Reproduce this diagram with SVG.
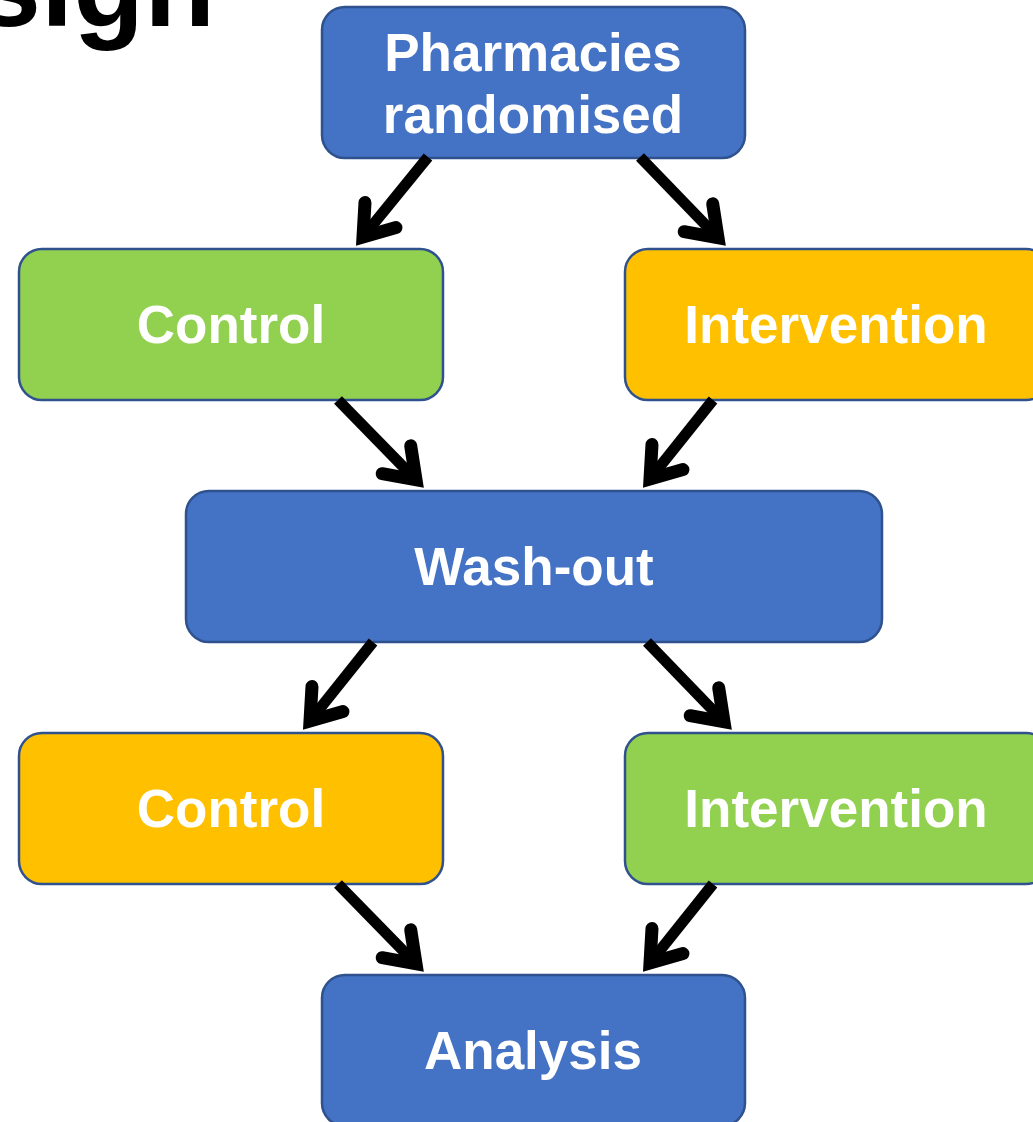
<svg xmlns="http://www.w3.org/2000/svg" width="1033" height="1122" viewBox="0 0 1033 1122">
<style>
.box{stroke:#2F528F;stroke-width:2.5}
.blue{fill:#4472C4}
.green{fill:#92D050}
.orange{fill:#FFC000}
.lbl{font-family:"Liberation Sans",Arial,sans-serif;font-weight:bold;font-size:53px;fill:#FFFFFF;text-anchor:middle}
.shaft{stroke:#000;stroke-width:11;fill:none;stroke-linecap:butt}
.head{stroke:#000;stroke-width:13;fill:none;stroke-linecap:round;stroke-linejoin:miter;stroke-miterlimit:10}
</style>
<rect width="1033" height="1122" fill="#FFFFFF"/>
<text x="215" y="26" font-family="'Liberation Sans',Arial,sans-serif" font-weight="bold" font-size="116" text-anchor="end" fill="#000">sign</text>
<g id="node-pharmacies">
<rect class="box blue" x="322" y="7" width="423" height="151" rx="23"/>
<text class="lbl" x="533" y="71">Pharmacies</text>
<text class="lbl" x="533" y="133">randomised</text>
</g>
<g id="node-control1">
<rect class="box green" x="19" y="249" width="424" height="151" rx="23"/>
<text class="lbl" x="231" y="343">Control</text>
</g>
<g id="node-intervention1">
<rect class="box orange" x="625" y="249" width="424" height="151" rx="23"/>
<text class="lbl" x="836" y="343">Intervention</text>
</g>
<g id="node-washout">
<rect class="box blue" x="186" y="491" width="696" height="151" rx="23"/>
<text class="lbl" x="534" y="585">Wash-out</text>
</g>
<g id="node-control2">
<rect class="box orange" x="19" y="733" width="424" height="151" rx="23"/>
<text class="lbl" x="231" y="827">Control</text>
</g>
<g id="node-intervention2">
<rect class="box green" x="625" y="733" width="424" height="151" rx="23"/>
<text class="lbl" x="836" y="827">Intervention</text>
</g>
<g id="node-analysis">
<rect class="box blue" x="322" y="975" width="423" height="151" rx="23"/>
<text class="lbl" x="533" y="1069">Analysis</text>
</g>
<g id="connectors">
<path class="shaft" d="M428,157 L363,236.9"/>
<path class="head" d="M396,227.6 L363,236.9 L365,202.5"/>
<path class="shaft" d="M640,157 L718,237.8"/>
<path class="head" d="M712.7,203.8 L718,237.8 L684.2,231.7"/>
<path class="shaft" d="M338,400 L416,479.8"/>
<path class="head" d="M410.7,445.8 L416,479.8 L382.2,473.7"/>
<path class="shaft" d="M713,400 L650,478.9"/>
<path class="head" d="M683,469.6 L650,478.9 L652,444.5"/>
<path class="shaft" d="M373,642 L310,720.9"/>
<path class="head" d="M343,711.6 L310,720.9 L312,686.5"/>
<path class="shaft" d="M647,642 L724,721.8"/>
<path class="head" d="M718.7,687.8 L724,721.8 L690.2,715.7"/>
<path class="shaft" d="M338,884 L416,963.8"/>
<path class="head" d="M410.7,929.8 L416,963.8 L382.2,957.7"/>
<path class="shaft" d="M713,884 L650,962.9"/>
<path class="head" d="M683,953.6 L650,962.9 L652,928.5"/>
</g>
</svg>
